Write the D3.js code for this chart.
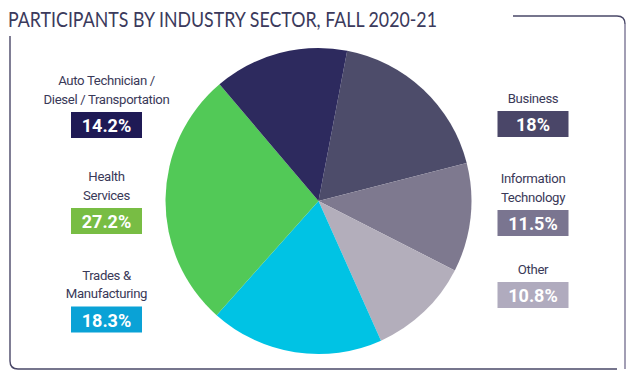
<!DOCTYPE html>
<html>
<head>
<meta charset="utf-8">
<script src="https://cdn.jsdelivr.net/npm/d3@7"></script>
<style>
  html, body { margin: 0; padding: 0; background: #ffffff; }
  svg { display: block; }
</style>
</head>
<body>
<svg id="chart" width="640" height="380"></svg>
<script>
// ---- data ----
const categories = ["Business", "Information Technology", "Other", "Trades & Manufacturing", "Health Services", "Auto Technician / Diesel / Transportation"];
const values = [18, 11.5, 10.8, 18.3, 27.2, 14.2];
const valueLabels = ["18%", "11.5%", "10.8%", "18.3%", "27.2%", "14.2%"];
const labelLines = [["Business"], ["Information", "Technology"], ["Other"], ["Trades &", "Manufacturing"], ["Health", "Services"], ["Auto Technician /", "Diesel / Transportation"]];
const title = "PARTICIPANTS BY INDUSTRY SECTOR, FALL 2020-21";

// ---- styles / layout ----
const sliceColors = ["#4d4c6a", "#7e798f", "#b3aebb", "#00c3e4", "#52c957", "#2d2a5e"];
const boxColors = ["#4a4668", "#7a7590", "#b0abbe", "#0aa2d6", "#78bd44", "#1f1a55"];
// label block layout: center x, y of the box top
const labelLayout = [
  {cx: 533, boxTop: 111},
  {cx: 533, boxTop: 210},
  {cx: 533, boxTop: 282},
  {cx: 106.5, boxTop: 306.5},
  {cx: 106.5, boxTop: 208},
  {cx: 106.5, boxTop: 112}
];
const boxW = 71, boxH = 26, lineH = 18.5;
const labelFont = "'Liberation Sans Narrow', 'Roboto', 'DejaVu Sans Condensed', sans-serif";

const svg = d3.select("#chart");

// frame
const frameDark = "#4a4868";
const frameLight = "#a29eb4";
svg.append("path")
  .attr("d", "M10,36 L10,361 Q10,369 18,369 L617,369")
  .attr("fill", "none").attr("stroke", frameDark).attr("stroke-width", 1.4);
svg.append("path")
  .attr("d", "M513,16 L617,16 Q625,16 625,24 L625,369")
  .attr("fill", "none").attr("stroke", frameDark).attr("stroke-width", 1.4);
svg.append("path")
  .attr("d", "M625,24 L625,369")
  .attr("fill", "none").attr("stroke", frameLight).attr("stroke-width", 2);

// title
svg.append("text")
  .attr("x", 8).attr("y", 26.5)
  .attr("font-family", "Lato, 'Open Sans', sans-serif")
  .attr("font-size", 22)
  .attr("fill", "#3b3a5c")
  .attr("textLength", 429)
  .attr("lengthAdjust", "spacingAndGlyphs")
  .text(title);

// pie
const cx = 318.5, cy = 201, r = 153;
const startOffset = 10.8 * Math.PI / 180;
const pie = d3.pie().sort(null).value(d => d).startAngle(startOffset).endAngle(startOffset + 2 * Math.PI);
const arc = d3.arc().innerRadius(0).outerRadius(r);
const color = d3.scaleOrdinal().domain(categories).range(sliceColors);
const boxColor = d3.scaleOrdinal().domain(categories).range(boxColors);

svg.append("g").attr("transform", `translate(${cx},${cy})`)
  .selectAll("path")
  .data(pie(values))
  .join("path")
  .attr("d", arc)
  .attr("fill", (d, i) => color(categories[i]));

// labels
const labels = svg.append("g");
categories.forEach((c, i) => {
  const L = labelLayout[i];
  const lines = labelLines[i];
  const g = labels.append("g");
  lines.forEach((t, j) => {
    g.append("text")
      .attr("x", L.cx)
      .attr("y", L.boxTop - 8.5 - (lines.length - 1 - j) * lineH)
      .attr("text-anchor", "middle")
      .attr("font-family", labelFont)
      .attr("font-size", 13.2)
      .attr("letter-spacing", -0.35)
      .attr("fill", "#3a3958")
      .text(t);
  });
  g.append("rect")
    .attr("x", L.cx - boxW / 2).attr("y", L.boxTop)
    .attr("width", boxW).attr("height", boxH)
    .attr("fill", boxColor(c));
  g.append("text")
    .attr("x", L.cx).attr("y", L.boxTop + 20)
    .attr("text-anchor", "middle")
    .attr("font-family", labelFont)
    .attr("font-weight", "bold")
    .attr("font-size", 18)
    .attr("fill", "#ffffff")
    .text(valueLabels[i]);
});
</script>
</body>
</html>
